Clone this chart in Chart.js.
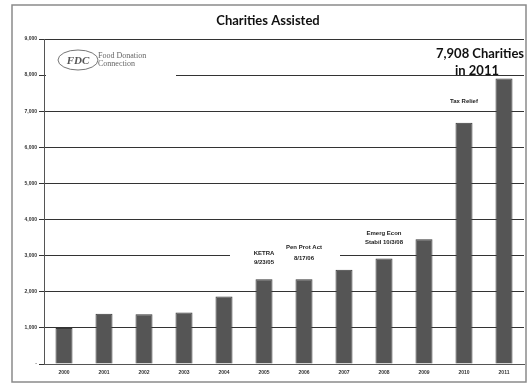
<!DOCTYPE html>
<html>
<head>
<meta charset="utf-8">
<script src="https://cdn.jsdelivr.net/npm/chart.js@4.4.1/dist/chart.umd.min.js"></script>
<style>
  html, body { margin: 0; padding: 0; background: #fff; }
  #wrap { width: 528px; height: 384px; }
</style>
</head>
<body>
<div id="wrap"><canvas id="chart1" width="528" height="384"></canvas></div>
<script>
// Charities assisted per year
var years = ["2000", "2001", "2002", "2003", "2004", "2005", "2006", "2007", "2008", "2009", "2010", "2011"];
var charities = [1000, 1390, 1380, 1425, 1870, 2345, 2350, 2610, 2920, 3455, 6680, 7908];
var yTicks = [0, 1000, 2000, 3000, 4000, 5000, 6000, 7000, 8000, 9000];

// Notes placed above some of the bars (index into years, text lines)
var notes = [
    { idx: 5, lines: ["KETRA", "9/23/05"], dy: [-26, -17], box: [-34, 36] },
    { idx: 6, lines: ["Pen Prot Act", "8/17/06"], dy: [-32, -21], box: [-22, 36] },
    { idx: 8, lines: ["Emerg Econ", "Stabil 10/3/08"], dy: [-25, -16], box: [-28, 28] },
    { idx: 10, lines: ["Tax Relief"], dy: [-21], box: [-40, 26] }
];

var decorPlugin = {
    id: 'decor',
    beforeDraw: function (chart) {
        var ctx = chart.ctx;
        ctx.save();
        ctx.fillStyle = '#fff';
        ctx.fillRect(0, 0, chart.width, chart.height);
        ctx.restore();
    },
    beforeDatasetsDraw: function (chart) {
        var ctx = chart.ctx;
        var x = chart.scales.x, y = chart.scales.y;
        ctx.save();

        // logo box hides the grid behind it
        ctx.fillStyle = '#fff';
        ctx.fillRect(46, 44, 130, 44);
        ctx.strokeStyle = '#777';
        ctx.lineWidth = 1;
        ctx.beginPath();
        ctx.ellipse(78, 60, 20, 10, 0, 0, Math.PI * 2);
        ctx.stroke();
        ctx.fillStyle = '#555';
        ctx.font = 'italic bold 11px "Liberation Serif"';
        ctx.textAlign = 'center';
        ctx.textBaseline = 'middle';
        ctx.fillText('FDC', 78, 61);
        ctx.textAlign = 'left';
        ctx.font = '8px "Liberation Serif"';
        ctx.fillStyle = '#666';
        ctx.fillText('Food Donation', 98, 56);
        ctx.fillText('Connection', 98, 64);

        // notes with white backing
        notes.forEach(function (n) {
            var cx = x.getPixelForValue(n.idx);
            var top = y.getPixelForValue(charities[n.idx]);
            ctx.fillStyle = '#fff';
            ctx.fillRect(cx + n.box[0], top + n.dy[0] - 6, n.box[1] - n.box[0], n.dy[n.dy.length - 1] - n.dy[0] + 11);
            ctx.fillStyle = '#222';
            ctx.font = 'bold 6px "Liberation Sans"';
            ctx.textAlign = 'center';
            ctx.textBaseline = 'middle';
            n.lines.forEach(function (t, i) {
                ctx.fillText(t, cx, top + n.dy[i]);
            });
        });

        // headline for the last year
        var last = charities.length - 1;
        var lx = x.getPixelForValue(last);
        var ly = y.getPixelForValue(charities[last]);
        ctx.fillStyle = '#fff';
        ctx.fillRect(lx - 70, ly - 32, 90, 6);
        ctx.fillStyle = '#111';
        ctx.font = 'bold 13px Lato';
        ctx.textAlign = 'center';
        ctx.fillText(charities[last].toLocaleString('en-US') + ' Charities', lx - 24, ly - 25);
        ctx.fillText('in ' + years[last], lx - 27, ly - 8);
        ctx.restore();
    },
    afterDraw: function (chart) {
        var ctx = chart.ctx;
        ctx.save();
        // outer frame
        ctx.strokeStyle = '#8a8a8a';
        ctx.lineWidth = 1.5;
        ctx.strokeRect(12, 5, 514, 377);
        // title
        ctx.fillStyle = '#111';
        ctx.font = 'bold 13px Lato';
        ctx.textAlign = 'center';
        ctx.textBaseline = 'middle';
        ctx.fillText('Charities Assisted', 268, 21);
        ctx.restore();
    }
};

var dataChart1 = {
    labels: years,
    datasets: [{
        label: "Charities Assisted",
        data: charities,
        backgroundColor: "#555555",
        borderColor: "#383838",
        borderWidth: 1,
        barPercentage: 0.85,
        categoryPercentage: 0.5
    }]
};

var configChart1 = {
    type: 'bar',
    data: dataChart1,
    options: {
        responsive: false,
        animation: false,
        layout: { padding: { top: 39, right: 4, bottom: 0, left: 0 } },
        plugins: {
            legend: { display: false },
            title: { display: false },
            tooltip: { enabled: false }
        },
        scales: {
            x: {
                grid: { display: false, drawTicks: false },
                border: { display: true, color: '#555', width: 1 },
                ticks: {
                    color: '#333',
                    font: { size: 5, family: '"Liberation Sans"', weight: 'bold' },
                    padding: 6,
                    maxRotation: 0
                },
                afterFit: function (scale) { scale.height = 20; }
            },
            y: {
                min: 0,
                max: 9000,
                afterBuildTicks: function (scale) {
                    scale.ticks = yTicks.map(function (v) { return { value: v }; });
                },
                grid: { color: '#333', lineWidth: 1, tickLength: 5, drawTicks: true },
                border: { display: true, color: '#555', width: 1 },
                ticks: {
                    color: '#333',
                    font: { size: 5, family: '"Liberation Sans"', weight: 'bold' },
                    padding: 2,
                    callback: function (v) { return v === 0 ? '-' : v.toLocaleString('en-US'); }
                },
                afterFit: function (scale) { scale.width = 44; }
            }
        }
    },
    plugins: [decorPlugin]
};

var ctxChart1 = document.getElementById('chart1').getContext('2d');
new Chart(ctxChart1, configChart1);
</script>
</body>
</html>
